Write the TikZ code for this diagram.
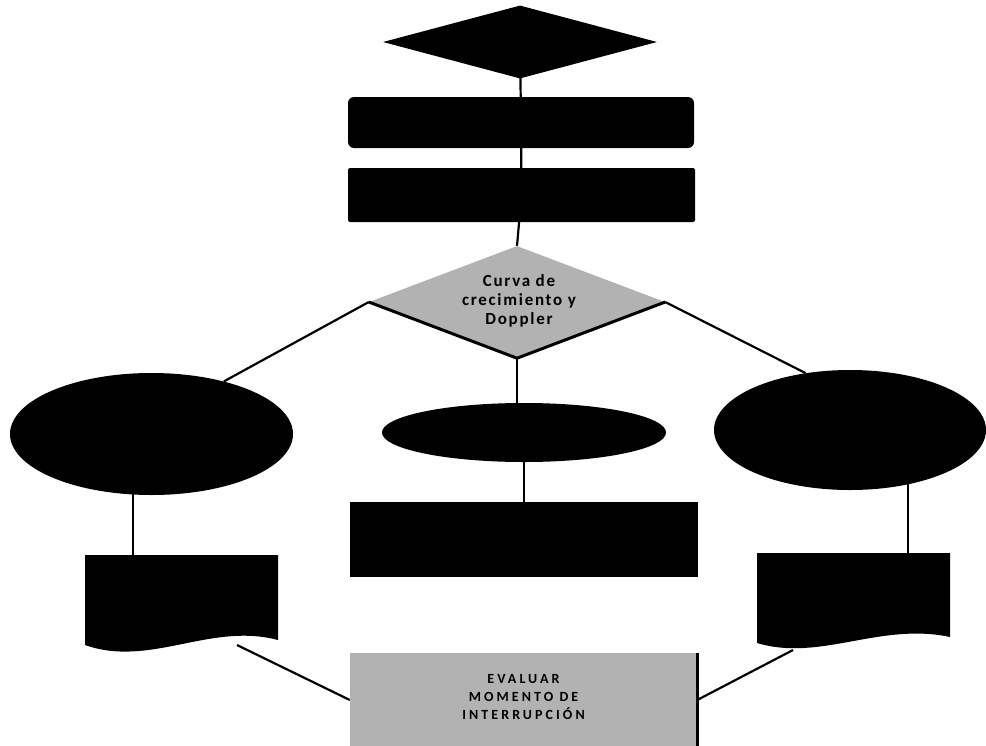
\documentclass[tikz,border=0pt]{standalone}
\usepackage{fontspec}
\setmainfont{Carlito}
\usetikzlibrary{shapes.geometric}
\pgfdeclarelayer{background}
\pgfsetlayers{background,main}
\begin{document}
\begin{tikzpicture}[x=1pt,y=-1pt,
  blk/.style={fill=black, draw=none, inner sep=0pt},
  grayshape/.style={fill=black!30, draw=none, inner sep=0pt},
  ghost/.style={draw=none, fill=none, inner sep=0pt},
  conn/.style={draw=black, line width=2.2pt},
  edge3/.style={draw=black, line width=3pt}]
\useasboundingbox (0,0) rectangle (986,745);
% top column
\node[blk, diamond, minimum width=274pt, minimum height=73pt] (td) at (520,42) {};
\node[blk, rectangle, rounded corners=6pt, minimum width=346pt, minimum height=51pt] (r1) at (521,122.5) {};
\node[blk, rectangle, rounded corners=2pt, minimum width=347pt, minimum height=54pt] (r2) at (521.5,195) {};
% decision diamond
\node[grayshape, diamond, minimum width=296pt, minimum height=112pt] (gd) at (517,302) {};
\draw[edge3, line join=miter] (gd.west) -- (gd.south) -- (gd.east);
\node[ghost, align=center, font=\bfseries\fontsize{17}{19}\selectfont\addfontfeatures{LetterSpace=10}] (gdt) at (519,301)
      {Curva de\\crecimiento y\\Doppler};
% ellipses
\node[blk, ellipse, minimum width=283pt, minimum height=122pt] (le) at (151.5,434) {};
\node[blk, ellipse, minimum width=284pt, minimum height=59pt] (ce) at (524,432.5) {};
\node[blk, ellipse, minimum width=272pt, minimum height=120pt] (re) at (850,430) {};
% centre box
\node[blk, rectangle, minimum width=348pt, minimum height=75pt] (cr) at (524,539.5) {};
% document boxes
\node[ghost, rectangle, minimum width=193pt, minimum height=90pt] (lb) at (181.5,600) {};
\fill[black] (85,555) -- (278,555) -- (278,640)
  .. controls (210,622) and (150,668) .. (85,645) -- cycle;
\node[ghost, rectangle, minimum width=193pt, minimum height=90pt] (rb) at (853.5,598) {};
\fill[black] (757,553) -- (950,553) -- (950,637)
  .. controls (880,622) and (820,662) .. (757,643) -- cycle;
% bottom box
\node[grayshape, rectangle, minimum width=347pt, minimum height=94pt] (bb) at (523.5,700) {};
\draw[edge3] (bb.north east) -- (bb.south east);
\node[ghost, align=center, font=\bfseries\fontsize{14}{18}\selectfont\addfontfeatures{LetterSpace=22}] (bbt) at (523.5,697)
  {EVALUAR\\MOMENTO DE\\INTERRUPCIÓN};
% connector end points
\coordinate (lefttop) at (133,555);
\coordinate (leftsrc) at (133,480);
\coordinate (righttop) at (908,553);
\coordinate (rightsrc) at (908,470);
\coordinate (lbout) at (237,645);
\coordinate (rbout) at (793,650);
\begin{pgfonlayer}{background}
  \draw[conn] (td.center) -- (r1.center);
  \draw[conn] (r1.center) -- (r2.center);
  \draw[conn] (r2.center) -- (gd.north);
  \draw[conn] (gd.west) -- (le.36);
  \draw[conn] (gd.east) -- (re.128);
  \draw[conn] (gd.south) -- (gd.south |- ce.north);
  \draw[conn] (ce.center) -- (cr.north);
  \draw[conn] (leftsrc) -- (lefttop);
  \draw[conn] (rightsrc) -- (righttop);
  \draw[conn] (lbout) -- (bb.west);
  \draw[conn] (rbout) -- (bb.east);
\end{pgfonlayer}
\end{tikzpicture}
\end{document}
